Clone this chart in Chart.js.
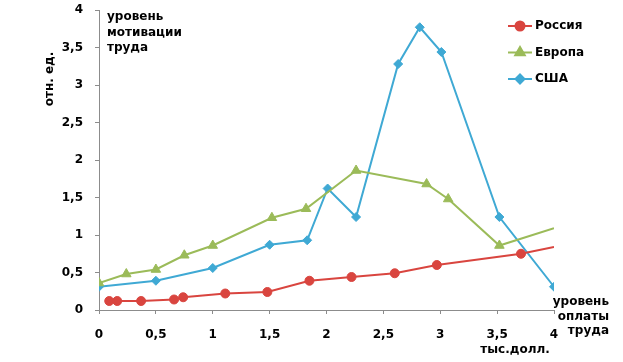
<!DOCTYPE html>
<html>
<head>
<meta charset="utf-8">
<script src="https://cdn.jsdelivr.net/npm/chart.js@4"></script>
<style>
  html, body { margin: 0; padding: 0; background: #fff; }
  #wrap { width: 623px; height: 362px; position: relative; }
</style>
</head>
<body>
<div id="wrap"><canvas id="chart"></canvas></div>
<script>
// x = уровень оплаты труда (тыс. долл.), y = уровень мотивации (отн. ед.)
const russiaX = [0.09, 0.16, 0.37, 0.66, 0.74, 1.11, 1.48, 1.85, 2.22, 2.60, 2.97, 3.71, 4.0];
const russiaY = [0.12, 0.12, 0.12, 0.14, 0.17, 0.22, 0.24, 0.39, 0.44, 0.49, 0.60, 0.75, 0.84];
const europeX = [0, 0.24, 0.50, 0.75, 1.0, 1.52, 1.82, 2.26, 2.88, 3.07, 3.52, 4.0];
const europeY = [0.36, 0.48, 0.54, 0.73, 0.86, 1.23, 1.35, 1.86, 1.68, 1.48, 0.86, 1.09];
const usaX = [0, 0.5, 1.0, 1.5, 1.83, 2.01, 2.26, 2.63, 2.82, 3.01, 3.52, 4.0];
const usaY = [0.31, 0.39, 0.56, 0.87, 0.93, 1.62, 1.24, 3.28, 3.77, 3.44, 1.24, 0.31];
const seriesNames = ["Россия", "Европа", "США"];
const xTicks = [0, 0.5, 1, 1.5, 2, 2.5, 3, 3.5, 4];

const COLORS = {
    red: "#D9453F",
    green: "#9BBB59",
    blue: "#3FA9D4",
    axis: "#8C8C8C",
    text: "#000000",
};
const FONT = "'DejaVu Sans', sans-serif";

function toPoints(xs, ys) {
    return xs.map((x, i) => ({ x, y: ys[i] }));
}

function commaNum(v) {
    return String(v).replace(".", ",");
}

// last points of Россия and Европа are drawn without a marker
function radii(n, r, hideLast) {
    return Array.from({ length: n }, (_, i) => (hideLast && i === n - 1 ? 0 : r));
}

const textPlugin = {
    id: "texts",
    afterDraw(chart) {
        const ctx = chart.ctx;
        ctx.save();
        ctx.fillStyle = COLORS.text;
        ctx.font = "bold 12px " + FONT;
        ctx.textBaseline = "middle";

        ctx.textAlign = "left";
        ["уровень", "мотивации", "труда"].forEach((t, i) => ctx.fillText(t, 107, 17 + i * 15.5));

        ctx.textAlign = "right";
        ["уровень", "оплаты", "труда"].forEach((t, i) => ctx.fillText(t, 609, 302 + i * 14.5));

        ctx.textAlign = "center";
        ctx.fillText("тыс.долл.", 515, 350);

        ctx.save();
        ctx.translate(50, 79);
        ctx.rotate(-Math.PI / 2);
        ctx.fillText("отн. ед.", 0, 0);
        ctx.restore();

        // legend
        chart.data.datasets.forEach((ds, i) => {
            const y = 26 + i * 26.5;
            ctx.strokeStyle = ds.borderColor;
            ctx.lineWidth = 2;
            ctx.beginPath();
            ctx.moveTo(508, y);
            ctx.lineTo(532, y);
            ctx.stroke();
            ctx.fillStyle = ds.backgroundColor;
            Chart.helpers.drawPoint(ctx, { pointStyle: ds.pointStyle, radius: ds.legendRadius, borderWidth: 1 }, 520, y);
            ctx.fillStyle = COLORS.text;
            ctx.textAlign = "left";
            ctx.fillText(ds.label, 535, y);
        });
        ctx.restore();
    },
};

function makeSet(label, xs, ys, color, style, r, hideLast) {
    return {
        label,
        data: toPoints(xs, ys),
        showLine: true,
        borderColor: color,
        backgroundColor: color,
        borderWidth: 2,
        pointStyle: style,
        pointRadius: radii(xs.length, r, hideLast),
        pointBorderWidth: 1,
        pointHoverRadius: r,
        legendRadius: r,
    };
}

new Chart(document.getElementById("chart"), {
    type: "scatter",
    data: {
        datasets: [
            makeSet(seriesNames[0], russiaX, russiaY, COLORS.red, "circle", 4.5, true),
            makeSet(seriesNames[1], europeX, europeY, COLORS.green, "triangle", 5.5, true),
            makeSet(seriesNames[2], usaX, usaY, COLORS.blue, "rectRot", 4.5, false),
        ],
    },
    options: {
        responsive: true,
        maintainAspectRatio: false,
        animation: false,
        layout: { padding: { top: 10, right: 69, left: 0, bottom: 0 } },
        plugins: {
            legend: { display: false },
            tooltip: { enabled: false },
        },
        scales: {
            x: {
                type: "linear",
                min: 0,
                max: 4,
                afterBuildTicks: s => { s.ticks = xTicks.map(v => ({ value: v })); },
                afterFit: s => { s.height = 52; s.paddingLeft = 0; s.paddingRight = 0; },
                ticks: {
                    callback: v => commaNum(v),
                    font: { family: FONT, size: 12, weight: "bold" },
                    color: COLORS.text,
                    padding: 14,
                    maxRotation: 0,
                },
                grid: { drawOnChartArea: false, tickLength: 4, color: COLORS.axis },
                border: { color: COLORS.axis, dash: [3, 3], width: 1 },
            },
            y: {
                min: 0,
                max: 4,
                afterFit: s => { s.width = 99; s.paddingTop = 0; s.paddingBottom = 0; },
                ticks: {
                    stepSize: 0.5,
                    callback: v => commaNum(v),
                    font: { family: FONT, size: 12, weight: "bold" },
                    color: COLORS.text,
                    padding: 12,
                },
                grid: { drawOnChartArea: false, tickLength: 4, color: COLORS.axis },
                border: { color: COLORS.axis, dash: [2, 2], width: 1 },
            },
        },
    },
    plugins: [textPlugin],
});
</script>
</body>
</html>
